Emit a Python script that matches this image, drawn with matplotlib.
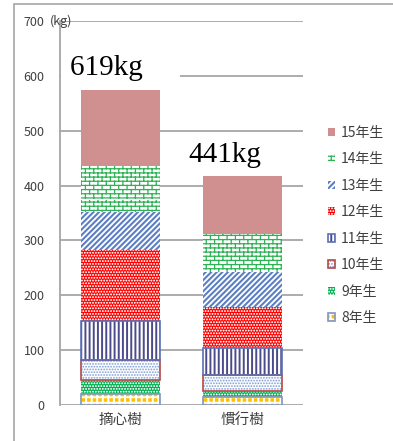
import numpy as np
import matplotlib
matplotlib.use('Agg')
import matplotlib.pyplot as plt
from matplotlib import hatch as mhatch
from matplotlib.patches import Rectangle

plt.rcParams['font.family'] = ['Noto Sans CJK TC', 'DejaVu Sans']

# 数据 (kg)
trees = ['摘心樹', '慣行樹']
ages = ['8年生', '9年生', '10年生', '11年生', '12年生', '13年生', '14年生', '15年生']
yield_pinch = [20, 25, 37, 71, 130, 69, 84, 142]
yield_normal = [15, 11, 29, 49, 74, 65, 69, 106]
totals = ['619kg', '441kg']
yticks = [0, 100, 200, 300, 400, 500, 600, 700]


# 砖块纹理: 用 '*' 代替星形
class BrickHatch(mhatch.HatchPatternBase):
    def __init__(self, hatch, density):
        self.rows = int(hatch.count('*') * density)
        self.cols = self.rows // 2
        self.num_vertices = 2 * self.rows + 2 * self.rows * self.cols

    def set_vertices_and_codes(self, vertices, codes):
        k = 0
        h = 1.0 / self.rows
        w = 1.0 / self.cols
        for i in range(self.rows):
            y0 = (i + 0.5) * h
            vertices[k] = (0, y0)
            vertices[k + 1] = (1, y0)
            k += 2
            off = 0.25 * w if i % 2 == 0 else 0.75 * w
            for j in range(self.cols):
                x0 = j * w + off
                vertices[k] = (x0, y0)
                vertices[k + 1] = (x0, y0 + h)
                k += 2
        codes[0::2] = mhatch.Path.MOVETO
        codes[1::2] = mhatch.Path.LINETO


mhatch._hatch_types = [BrickHatch if t is mhatch.Stars else t for t in mhatch._hatch_types]
mhatch.SmallFilledCircles.size = 0.25

# face, hatch, hatch colour, hatch lw, border
styles = [
    ('#FFC000', '+++', 'white', 1.4, '#7F96C0'),
    ('#00B050', '......', 'white', 0.3, None),
    ('white', '......', '#8FAADC', 0.3, '#B04A48'),
    ('white', '||||', '#4B4B8C', 1.4, '#5B70B5'),
    ('#FF0000', '......', 'white', 0.3, None),
    ('white', '//////', '#5B7FC4', 1.5, None),
    ('white', '****', '#2DB354', 0.9, None),
    ('#D09090', None, None, 1.0, None),
]

fig = plt.figure(figsize=(3.93, 4.41), dpi=100)
ax = fig.add_axes([60 / 393, 36 / 441, 243 / 393, 384 / 441])

x = np.arange(len(trees))
width = 0.65
bottom = np.zeros(len(trees))
handles = []
for i, age in enumerate(ages):
    vals = np.array([yield_pinch[i], yield_normal[i]])
    face, hatch, hcol, hlw, border = styles[i]
    plt.rcParams['hatch.linewidth'] = hlw
    b = ax.bar(x, vals, width, bottom=bottom, color=face, hatch=hatch,
               edgecolor=hcol if hcol else 'none', linewidth=0, label=age, zorder=2)
    if border:
        e = ax.bar(x, vals, width, bottom=bottom, fill=False, edgecolor=border,
                   linewidth=1.2, zorder=2.1)
        handles.append((b, e))
    else:
        handles.append((b,))
    bottom += vals

ax.set_xlim(-0.5, 1.5)
ax.set_ylim(0, 700)
ax.set_yticks(yticks)
ax.set_xticks(x)
ax.set_xticklabels(trees, fontsize=10.5, color='#404040')
ax.tick_params(axis='y', length=0, pad=11, labelsize=9, labelcolor='#404040')
ax.tick_params(axis='x', length=0, pad=6)
ax.set_axisbelow(True)
ax.yaxis.grid(True, color='#A6A6A6', linewidth=1.3)
for s in ['top', 'right', 'bottom']:
    ax.spines[s].set_visible(False)
ax.spines['left'].set_color('#A6A6A6')
ax.spines['left'].set_linewidth(1.3)

ax.text(-0.041, 700, '(kg)', transform=ax.get_yaxis_transform(), ha='left',
        va='center', fontsize=9, color='#404040')

ax.text(-0.418, 602, totals[0] + '    ', fontsize=21, family='Liberation Serif',
        ha='left', va='baseline', zorder=5,
        bbox=dict(boxstyle='square,pad=0.3', fc='white', ec='none'))
ax.text(0.553, 443, totals[1], fontsize=21, family='Liberation Serif',
        ha='left', va='baseline', zorder=5)

leg = fig.legend(handles[::-1], ages[::-1], loc='upper left', bbox_to_anchor=(0.834, 0.715),
                 frameon=False, fontsize=10, labelspacing=0.9, handlelength=0.55,
                 handleheight=0.55, handletextpad=0.4, borderpad=0, borderaxespad=0,
                 labelcolor='#404040')

# 图例块的纹理线宽
for art in leg.findobj(matplotlib.patches.Rectangle):
    h = art.get_hatch()
    if h:
        for s in styles:
            if s[1] == h and matplotlib.colors.same_color(art.get_facecolor(), s[0]):
                art._hatch_linewidth = s[3]

fig.add_artist(Rectangle((14 / 393, -0.1), 2, 1.1 - 4 / 441, transform=fig.transFigure,
                         fill=False, edgecolor='#A6A6A6', linewidth=1.2))

fig.savefig('out.png', dpi=100)
